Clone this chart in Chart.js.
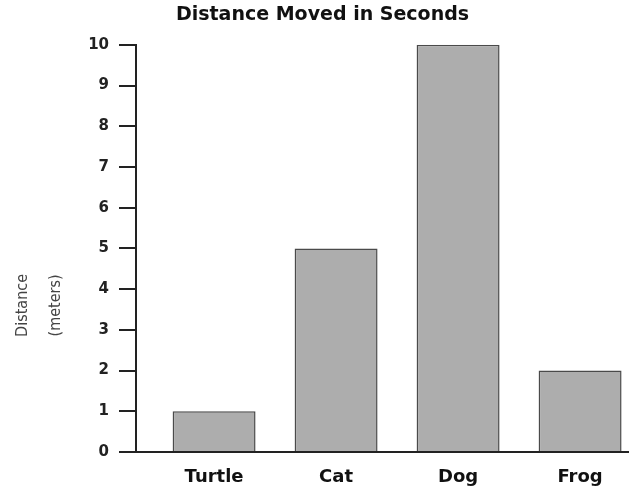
<!DOCTYPE html>
<html>
<head>
<meta charset="utf-8">
<script src="https://cdn.jsdelivr.net/npm/chart.js@4"></script>
<style>
html,body{margin:0;padding:0;background:#fff;overflow:hidden;width:629px;height:489px;}
#wrap{width:645px;height:489px;}
</style>
</head>
<body>
<div id="wrap"><canvas id="c" width="645" height="489"></canvas></div>
<script>
const categories = ["Turtle", "Cat", "Dog", "Frog"];
const distances = [1, 5, 10, 2];
const yTicks = [0, 1, 2, 3, 4, 5, 6, 7, 8, 9, 10];
const chartTitle = "Distance Moved in Seconds";
const yTitleLines = ["Distance", "(meters)"];

const yTitlePlugin = {
  id: 'yTitle',
  afterDraw(chart) {
    const ctx = chart.ctx;
    const a = chart.chartArea;
    const cy = a.top + (a.bottom - a.top) * 0.64;
    ctx.save();
    ctx.fillStyle = '#444';
    ctx.font = '16px "Liberation Sans Narrow", "DejaVu Sans Condensed", "Liberation Sans", sans-serif';
    ctx.textAlign = 'center';
    ctx.textBaseline = 'middle';
    const xs = [23, 56];
    yTitleLines.forEach((t, i) => {
      ctx.save();
      ctx.translate(xs[i], cy);
      ctx.rotate(-Math.PI / 2);
      ctx.fillText(t, 0, 0);
      ctx.restore();
    });
    ctx.restore();
  }
};

new Chart(document.getElementById('c'), {
  type: 'bar',
  data: {
    datasets: [{
      data: categories.map((c, i) => ({ x: i, y: distances[i] })),
      backgroundColor: '#adadad',
      borderColor: '#4a4a4a',
      borderWidth: 1.5,
      barPercentage: 0.85,
      categoryPercentage: 0.8
    }]
  },
  options: {
    responsive: false,
    animation: false,
    layout: { padding: { top: 4, right: 0, bottom: 0, left: 0 } },
    plugins: {
      legend: { display: false },
      tooltip: { enabled: false },
      title: {
        display: true,
        text: chartTitle,
        color: '#111',
        font: { family: '"DejaVu Sans", sans-serif', size: 19, weight: 'bold' },
        padding: { top: 0, bottom: 18 }
      }
    },
    scales: {
      x: {
        type: 'linear',
        offset: false,
        min: -0.64,
        max: 3.532,
        afterBuildTicks(scale) { scale.ticks = categories.map((c, i) => ({ value: i })); },
        afterFit(scale) { scale.height = 37; },
        ticks: {
          callback: (v) => categories[v],
          color: '#111',
          font: { family: '"DejaVu Sans", sans-serif', size: 18, weight: 'bold' },
          padding: 15,
          maxRotation: 0,
          autoSkip: false
        },
        grid: { display: false, drawTicks: false, offset: false },
        border: { display: true, color: '#222', width: 2 }
      },
      y: {
        min: 0,
        max: 10,
        afterBuildTicks(scale) { scale.ticks = yTicks.map(v => ({ value: v })); },
        afterFit(scale) { scale.width = 136; },
        ticks: {
          color: '#222',
          font: { family: '"DejaVu Sans", sans-serif', size: 15, weight: 'bold' },
          padding: 10
        },
        grid: { drawOnChartArea: false, drawTicks: true, tickLength: 17, color: '#222', lineWidth: 2 },
        border: { display: true, color: '#222', width: 2 }
      }
    }
  },
  plugins: [yTitlePlugin]
});
</script>
</body>
</html>
